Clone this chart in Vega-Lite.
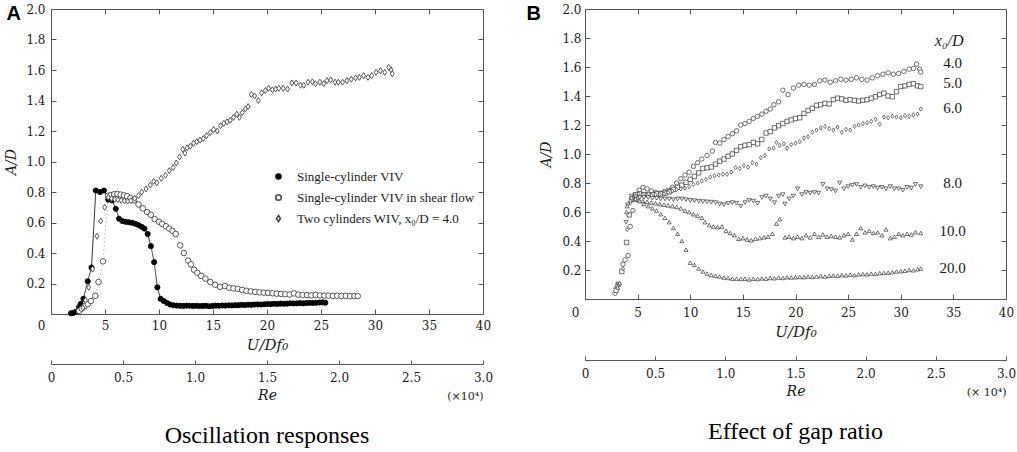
{
  "$schema": "https://vega.github.io/schema/vega-lite/v6.json",
  "padding": {"left": 4, "top": 2, "right": 0, "bottom": 0},
  "background": "white",
  "spacing": 31,
  "resolve": {
    "scale": {"shape": "independent", "size": "independent", "fill": "independent", "stroke": "independent", "color": "independent", "strokeDash": "independent"},
    "legend": {"shape": "independent", "fill": "independent", "stroke": "independent", "size": "independent"}
  },
  "config": {
    "view": {"stroke": "#555", "strokeWidth": 1},
    "font": "Liberation Serif",
    "axis": {
      "domain": false,
      "grid": false,
      "tickColor": "#555",
      "tickWidth": 1,
      "labelFont": "DejaVu Serif",
      "labelFontSize": 12,
      "labelColor": "#1a1a1a",
      "titleFont": "DejaVu Serif",
      "titleFontWeight": "normal",
      "titleColor": "#1a1a1a",
      "labelFlush": false,
      "labelOverlap": false
    },
    "legend": {"labelFont": "Liberation Serif", "labelFontSize": 13}
  },
  "datasets": {
    "a": [
      {"s":"V","u":1.85,"a":0.005},{"s":"V","u":2.05,"a":0.007},{"s":"V","u":2.3,"a":0.015},{"s":"V","u":2.6,"a":0.045},{"s":"V","u":2.75,"a":0.066},{"s":"V","u":3.0,"a":0.1},{"s":"V","u":3.4,"a":0.215},{"s":"V","u":3.75,"a":0.305},{"s":"V","u":4.15,"a":0.81},{"s":"V","u":4.55,"a":0.8},{"s":"V","u":4.9,"a":0.81},{"s":"V","u":5.3,"a":0.75},{"s":"V","u":5.65,"a":0.745},{"s":"V","u":6.0,"a":0.69},{"s":"V","u":6.3,"a":0.625},{"s":"V","u":6.6,"a":0.61},{"s":"V","u":6.9,"a":0.605},{"s":"V","u":7.2,"a":0.602},{"s":"V","u":7.5,"a":0.598},{"s":"V","u":7.8,"a":0.592},{"s":"V","u":8.1,"a":0.583},{"s":"V","u":8.4,"a":0.572},{"s":"V","u":8.65,"a":0.56},{"s":"V","u":8.95,"a":0.525},{"s":"V","u":9.25,"a":0.445},{"s":"V","u":9.55,"a":0.34},{"s":"V","u":9.85,"a":0.175},{"s":"V","u":10.15,"a":0.1},{"s":"V","u":10.45,"a":0.085},{"s":"V","u":10.75,"a":0.072},{"s":"V","u":11.05,"a":0.062},{"s":"V","u":11.35,"a":0.057},{"s":"V","u":11.65,"a":0.055},{"s":"V","u":11.95,"a":0.054},{"s":"V","u":12.25,"a":0.053},{"s":"V","u":12.55,"a":0.055},{"s":"V","u":12.85,"a":0.054},{"s":"V","u":13.15,"a":0.053},{"s":"V","u":13.45,"a":0.054},{"s":"V","u":13.75,"a":0.052},{"s":"V","u":14.05,"a":0.053},{"s":"V","u":14.35,"a":0.054},{"s":"V","u":14.65,"a":0.051},{"s":"V","u":14.95,"a":0.053},{"s":"V","u":15.25,"a":0.055},{"s":"V","u":15.55,"a":0.054},{"s":"V","u":15.85,"a":0.056},{"s":"V","u":16.15,"a":0.055},{"s":"V","u":16.45,"a":0.057},{"s":"V","u":16.75,"a":0.056},{"s":"V","u":17.05,"a":0.058},{"s":"V","u":17.35,"a":0.058},{"s":"V","u":17.65,"a":0.06},{"s":"V","u":17.95,"a":0.059},{"s":"V","u":18.25,"a":0.061},{"s":"V","u":18.55,"a":0.06},{"s":"V","u":18.85,"a":0.062},{"s":"V","u":19.15,"a":0.063},{"s":"V","u":19.45,"a":0.062},{"s":"V","u":19.75,"a":0.064},{"s":"V","u":20.05,"a":0.066},{"s":"V","u":20.35,"a":0.065},{"s":"V","u":20.65,"a":0.067},{"s":"V","u":20.95,"a":0.066},{"s":"V","u":21.25,"a":0.068},{"s":"V","u":21.55,"a":0.067},{"s":"V","u":21.85,"a":0.068},{"s":"V","u":22.15,"a":0.07},{"s":"V","u":22.45,"a":0.069},{"s":"V","u":22.75,"a":0.07},{"s":"V","u":23.05,"a":0.071},{"s":"V","u":23.35,"a":0.07},{"s":"V","u":23.65,"a":0.072},{"s":"V","u":23.95,"a":0.073},{"s":"V","u":24.25,"a":0.072},{"s":"V","u":24.55,"a":0.074},{"s":"V","u":24.85,"a":0.075},{"s":"V","u":25.15,"a":0.076},{"s":"V","u":25.4,"a":0.074},
      {"s":"S","u":2.6,"a":0.02},{"s":"S","u":2.85,"a":0.035},{"s":"S","u":3.1,"a":0.05},{"s":"S","u":3.4,"a":0.065},{"s":"S","u":3.7,"a":0.085},{"s":"S","u":4.1,"a":0.12},{"s":"S","u":4.4,"a":0.21},{"s":"S","u":4.82,"a":0.345},{"s":"S","u":5.28,"a":0.775},{"s":"S","u":5.55,"a":0.78},{"s":"S","u":5.85,"a":0.785},{"s":"S","u":6.15,"a":0.787},{"s":"S","u":6.45,"a":0.783},{"s":"S","u":6.75,"a":0.778},{"s":"S","u":7.05,"a":0.772},{"s":"S","u":7.35,"a":0.76},{"s":"S","u":7.7,"a":0.745},{"s":"S","u":8.1,"a":0.718},{"s":"S","u":8.5,"a":0.692},{"s":"S","u":8.9,"a":0.668},{"s":"S","u":9.25,"a":0.65},{"s":"S","u":9.6,"a":0.622},{"s":"S","u":10.0,"a":0.605},{"s":"S","u":10.3,"a":0.59},{"s":"S","u":10.65,"a":0.575},{"s":"S","u":10.95,"a":0.56},{"s":"S","u":11.25,"a":0.545},{"s":"S","u":11.55,"a":0.525},{"s":"S","u":11.97,"a":0.45},{"s":"S","u":12.3,"a":0.4},{"s":"S","u":12.7,"a":0.35},{"s":"S","u":12.95,"a":0.325},{"s":"S","u":13.25,"a":0.29},{"s":"S","u":13.55,"a":0.27},{"s":"S","u":13.9,"a":0.25},{"s":"S","u":14.3,"a":0.232},{"s":"S","u":14.75,"a":0.21},{"s":"S","u":15.2,"a":0.192},{"s":"S","u":15.65,"a":0.178},{"s":"S","u":16.1,"a":0.183},{"s":"S","u":16.5,"a":0.172},{"s":"S","u":16.9,"a":0.168},{"s":"S","u":17.3,"a":0.165},{"s":"S","u":17.7,"a":0.158},{"s":"S","u":18.1,"a":0.152},{"s":"S","u":18.5,"a":0.148},{"s":"S","u":18.9,"a":0.145},{"s":"S","u":19.3,"a":0.142},{"s":"S","u":19.7,"a":0.14},{"s":"S","u":20.1,"a":0.138},{"s":"S","u":20.5,"a":0.136},{"s":"S","u":20.9,"a":0.133},{"s":"S","u":21.3,"a":0.132},{"s":"S","u":21.7,"a":0.13},{"s":"S","u":22.1,"a":0.128},{"s":"S","u":22.5,"a":0.135},{"s":"S","u":22.9,"a":0.127},{"s":"S","u":23.3,"a":0.125},{"s":"S","u":23.7,"a":0.124},{"s":"S","u":24.1,"a":0.122},{"s":"S","u":24.5,"a":0.125},{"s":"S","u":24.9,"a":0.122},{"s":"S","u":25.3,"a":0.12},{"s":"S","u":25.7,"a":0.121},{"s":"S","u":26.1,"a":0.119},{"s":"S","u":26.5,"a":0.12},{"s":"S","u":26.9,"a":0.118},{"s":"S","u":27.3,"a":0.119},{"s":"S","u":27.7,"a":0.117},{"s":"S","u":28.1,"a":0.118},{"s":"S","u":28.4,"a":0.117},
      {"s":"T","u":2.95,"a":0.04},{"s":"T","u":3.2,"a":0.09},{"s":"T","u":3.5,"a":0.175},{"s":"T","u":3.85,"a":0.295},{"s":"T","u":4.25,"a":0.51},{"s":"T","u":4.6,"a":0.61},{"s":"T","u":4.97,"a":0.7},{"s":"T","u":5.3,"a":0.765},{"s":"T","u":5.6,"a":0.757},{"s":"T","u":5.9,"a":0.752},{"s":"T","u":6.2,"a":0.75},{"s":"T","u":6.5,"a":0.745},{"s":"T","u":6.8,"a":0.742},{"s":"T","u":7.1,"a":0.74},{"s":"T","u":7.4,"a":0.743},{"s":"T","u":7.75,"a":0.758},{"s":"T","u":8.1,"a":0.776},{"s":"T","u":8.4,"a":0.8},{"s":"T","u":8.8,"a":0.82},{"s":"T","u":9.2,"a":0.846},{"s":"T","u":9.5,"a":0.87},{"s":"T","u":9.8,"a":0.86},{"s":"T","u":10.2,"a":0.89},{"s":"T","u":10.6,"a":0.91},{"s":"T","u":10.95,"a":0.94},{"s":"T","u":11.3,"a":0.96},{"s":"T","u":11.6,"a":0.99},{"s":"T","u":11.9,"a":1.03},{"s":"T","u":12.2,"a":1.08},{"s":"T","u":12.4,"a":1.055},{"s":"T","u":12.6,"a":1.09},{"s":"T","u":12.9,"a":1.1},{"s":"T","u":13.2,"a":1.12},{"s":"T","u":13.5,"a":1.13},{"s":"T","u":13.8,"a":1.14},{"s":"T","u":14.1,"a":1.15},{"s":"T","u":14.4,"a":1.17},{"s":"T","u":14.75,"a":1.19},{"s":"T","u":15.05,"a":1.21},{"s":"T","u":15.4,"a":1.2},{"s":"T","u":15.7,"a":1.235},{"s":"T","u":16.0,"a":1.25},{"s":"T","u":16.3,"a":1.26},{"s":"T","u":16.6,"a":1.27},{"s":"T","u":16.9,"a":1.29},{"s":"T","u":17.2,"a":1.31},{"s":"T","u":17.45,"a":1.29},{"s":"T","u":17.7,"a":1.32},{"s":"T","u":18.0,"a":1.345},{"s":"T","u":18.25,"a":1.36},{"s":"T","u":18.55,"a":1.44},{"s":"T","u":18.85,"a":1.43},{"s":"T","u":19.2,"a":1.4},{"s":"T","u":19.5,"a":1.45},{"s":"T","u":19.85,"a":1.465},{"s":"T","u":20.15,"a":1.48},{"s":"T","u":20.5,"a":1.47},{"s":"T","u":20.8,"a":1.475},{"s":"T","u":21.1,"a":1.48},{"s":"T","u":21.5,"a":1.48},{"s":"T","u":21.9,"a":1.475},{"s":"T","u":22.3,"a":1.515},{"s":"T","u":22.7,"a":1.515},{"s":"T","u":23.1,"a":1.5},{"s":"T","u":23.4,"a":1.5},{"s":"T","u":23.8,"a":1.52},{"s":"T","u":24.2,"a":1.523},{"s":"T","u":24.5,"a":1.51},{"s":"T","u":24.9,"a":1.52},{"s":"T","u":25.25,"a":1.51},{"s":"T","u":25.55,"a":1.53},{"s":"T","u":25.9,"a":1.535},{"s":"T","u":26.3,"a":1.52},{"s":"T","u":26.6,"a":1.52},{"s":"T","u":27.0,"a":1.52},{"s":"T","u":27.4,"a":1.53},{"s":"T","u":27.8,"a":1.54},{"s":"T","u":28.2,"a":1.548},{"s":"T","u":28.55,"a":1.552},{"s":"T","u":28.95,"a":1.563},{"s":"T","u":29.35,"a":1.552},{"s":"T","u":29.7,"a":1.563},{"s":"T","u":30.1,"a":1.585},{"s":"T","u":30.5,"a":1.595},{"s":"T","u":30.9,"a":1.585},{"s":"T","u":31.27,"a":1.617},{"s":"T","u":31.5,"a":1.6},{"s":"T","u":31.6,"a":1.575}
    ],
    "b": [
      {"g":"4.0","u":2.85,"a":0.04},{"g":"4.0","u":3.0,"a":0.07},{"g":"4.0","u":3.6,"a":0.24},{"g":"4.0","u":3.8,"a":0.27},{"g":"4.0","u":4.1,"a":0.3},{"g":"4.0","u":4.3,"a":0.5},{"g":"4.0","u":4.55,"a":0.61},{"g":"4.0","u":4.85,"a":0.7},{"g":"4.0","u":5.15,"a":0.75},{"g":"4.0","u":5.5,"a":0.77},{"g":"4.0","u":5.9,"a":0.76},{"g":"4.0","u":6.3,"a":0.745},{"g":"4.0","u":6.7,"a":0.735},{"g":"4.0","u":7.1,"a":0.73},{"g":"4.0","u":7.5,"a":0.74},{"g":"4.0","u":7.9,"a":0.75},{"g":"4.0","u":8.3,"a":0.77},{"g":"4.0","u":8.7,"a":0.8},{"g":"4.0","u":9.1,"a":0.83},{"g":"4.0","u":9.5,"a":0.855},{"g":"4.0","u":9.9,"a":0.875},{"g":"4.0","u":10.3,"a":0.915},{"g":"4.0","u":10.7,"a":0.94},{"g":"4.0","u":11.1,"a":0.965},{"g":"4.0","u":11.6,"a":0.99},{"g":"4.0","u":12.1,"a":1.02},{"g":"4.0","u":12.4,"a":1.08},{"g":"4.0","u":12.8,"a":1.075},{"g":"4.0","u":13.2,"a":1.1},{"g":"4.0","u":13.6,"a":1.12},{"g":"4.0","u":14.0,"a":1.14},{"g":"4.0","u":14.4,"a":1.16},{"g":"4.0","u":14.8,"a":1.2},{"g":"4.0","u":15.2,"a":1.21},{"g":"4.0","u":15.6,"a":1.225},{"g":"4.0","u":16.0,"a":1.245},{"g":"4.0","u":16.4,"a":1.26},{"g":"4.0","u":16.8,"a":1.275},{"g":"4.0","u":17.2,"a":1.295},{"g":"4.0","u":17.6,"a":1.31},{"g":"4.0","u":17.95,"a":1.34},{"g":"4.0","u":18.4,"a":1.36},{"g":"4.0","u":18.8,"a":1.44},{"g":"4.0","u":19.3,"a":1.41},{"g":"4.0","u":19.8,"a":1.455},{"g":"4.0","u":20.3,"a":1.475},{"g":"4.0","u":20.8,"a":1.48},{"g":"4.0","u":21.3,"a":1.475},{"g":"4.0","u":21.8,"a":1.48},{"g":"4.0","u":22.3,"a":1.505},{"g":"4.0","u":22.8,"a":1.51},{"g":"4.0","u":23.3,"a":1.495},{"g":"4.0","u":23.8,"a":1.505},{"g":"4.0","u":24.3,"a":1.515},{"g":"4.0","u":24.8,"a":1.51},{"g":"4.0","u":25.3,"a":1.515},{"g":"4.0","u":25.8,"a":1.525},{"g":"4.0","u":26.3,"a":1.515},{"g":"4.0","u":26.8,"a":1.51},{"g":"4.0","u":27.3,"a":1.525},{"g":"4.0","u":27.8,"a":1.54},{"g":"4.0","u":28.3,"a":1.55},{"g":"4.0","u":28.8,"a":1.56},{"g":"4.0","u":29.3,"a":1.55},{"g":"4.0","u":29.8,"a":1.555},{"g":"4.0","u":30.3,"a":1.57},{"g":"4.0","u":30.8,"a":1.585},{"g":"4.0","u":31.2,"a":1.59},{"g":"4.0","u":31.5,"a":1.62},{"g":"4.0","u":31.8,"a":1.585},{"g":"4.0","u":31.9,"a":1.565},
      {"g":"5.0","u":2.95,"a":0.06},{"g":"5.0","u":3.15,"a":0.1},{"g":"5.0","u":3.5,"a":0.19},{"g":"5.0","u":3.95,"a":0.39},{"g":"5.0","u":4.2,"a":0.58},{"g":"5.0","u":4.45,"a":0.69},{"g":"5.0","u":4.8,"a":0.72},{"g":"5.0","u":5.2,"a":0.725},{"g":"5.0","u":5.6,"a":0.72},{"g":"5.0","u":6.0,"a":0.72},{"g":"5.0","u":6.4,"a":0.72},{"g":"5.0","u":6.8,"a":0.725},{"g":"5.0","u":7.2,"a":0.725},{"g":"5.0","u":7.6,"a":0.73},{"g":"5.0","u":8.0,"a":0.74},{"g":"5.0","u":8.4,"a":0.755},{"g":"5.0","u":8.8,"a":0.77},{"g":"5.0","u":9.2,"a":0.785},{"g":"5.0","u":9.6,"a":0.805},{"g":"5.0","u":10.0,"a":0.825},{"g":"5.0","u":10.4,"a":0.845},{"g":"5.0","u":10.8,"a":0.87},{"g":"5.0","u":11.2,"a":0.9},{"g":"5.0","u":11.6,"a":0.905},{"g":"5.0","u":12.0,"a":0.91},{"g":"5.0","u":12.4,"a":0.93},{"g":"5.0","u":12.8,"a":0.95},{"g":"5.0","u":13.2,"a":0.965},{"g":"5.0","u":13.6,"a":0.985},{"g":"5.0","u":14.0,"a":1.0},{"g":"5.0","u":14.4,"a":1.025},{"g":"5.0","u":14.8,"a":1.05},{"g":"5.0","u":15.2,"a":1.06},{"g":"5.0","u":15.6,"a":1.065},{"g":"5.0","u":16.0,"a":1.08},{"g":"5.0","u":16.4,"a":1.07},{"g":"5.0","u":16.8,"a":1.1},{"g":"5.0","u":17.2,"a":1.145},{"g":"5.0","u":17.6,"a":1.155},{"g":"5.0","u":18.0,"a":1.18},{"g":"5.0","u":18.4,"a":1.195},{"g":"5.0","u":18.8,"a":1.21},{"g":"5.0","u":19.2,"a":1.225},{"g":"5.0","u":19.6,"a":1.235},{"g":"5.0","u":20.0,"a":1.245},{"g":"5.0","u":20.4,"a":1.25},{"g":"5.0","u":20.8,"a":1.28},{"g":"5.0","u":21.2,"a":1.3},{"g":"5.0","u":21.6,"a":1.315},{"g":"5.0","u":22.0,"a":1.335},{"g":"5.0","u":22.4,"a":1.34},{"g":"5.0","u":22.8,"a":1.35},{"g":"5.0","u":23.2,"a":1.345},{"g":"5.0","u":23.6,"a":1.375},{"g":"5.0","u":24.0,"a":1.385},{"g":"5.0","u":24.4,"a":1.38},{"g":"5.0","u":24.8,"a":1.37},{"g":"5.0","u":25.2,"a":1.375},{"g":"5.0","u":25.6,"a":1.37},{"g":"5.0","u":26.0,"a":1.365},{"g":"5.0","u":26.4,"a":1.37},{"g":"5.0","u":26.8,"a":1.375},{"g":"5.0","u":27.2,"a":1.385},{"g":"5.0","u":27.6,"a":1.395},{"g":"5.0","u":28.0,"a":1.41},{"g":"5.0","u":28.4,"a":1.42},{"g":"5.0","u":28.8,"a":1.4},{"g":"5.0","u":29.2,"a":1.395},{"g":"5.0","u":29.6,"a":1.43},{"g":"5.0","u":30.0,"a":1.465},{"g":"5.0","u":30.4,"a":1.47},{"g":"5.0","u":30.8,"a":1.48},{"g":"5.0","u":31.2,"a":1.485},{"g":"5.0","u":31.6,"a":1.47},{"g":"5.0","u":31.9,"a":1.465},
      {"g":"6.0","u":3.05,"a":0.09},{"g":"6.0","u":3.6,"a":0.21},{"g":"6.0","u":4.0,"a":0.48},{"g":"6.0","u":4.3,"a":0.66},{"g":"6.0","u":4.7,"a":0.72},{"g":"6.0","u":5.1,"a":0.725},{"g":"6.0","u":5.5,"a":0.72},{"g":"6.0","u":5.9,"a":0.715},{"g":"6.0","u":6.3,"a":0.715},{"g":"6.0","u":6.7,"a":0.72},{"g":"6.0","u":7.1,"a":0.72},{"g":"6.0","u":7.5,"a":0.725},{"g":"6.0","u":7.9,"a":0.735},{"g":"6.0","u":8.3,"a":0.745},{"g":"6.0","u":8.7,"a":0.755},{"g":"6.0","u":9.1,"a":0.76},{"g":"6.0","u":9.5,"a":0.765},{"g":"6.0","u":9.9,"a":0.775},{"g":"6.0","u":10.3,"a":0.79},{"g":"6.0","u":10.7,"a":0.8},{"g":"6.0","u":11.1,"a":0.815},{"g":"6.0","u":11.5,"a":0.825},{"g":"6.0","u":11.9,"a":0.84},{"g":"6.0","u":12.3,"a":0.85},{"g":"6.0","u":12.7,"a":0.855},{"g":"6.0","u":13.1,"a":0.86},{"g":"6.0","u":13.5,"a":0.86},{"g":"6.0","u":13.9,"a":0.875},{"g":"6.0","u":14.3,"a":0.905},{"g":"6.0","u":14.7,"a":0.9},{"g":"6.0","u":15.1,"a":0.92},{"g":"6.0","u":15.5,"a":0.91},{"g":"6.0","u":15.9,"a":0.94},{"g":"6.0","u":16.3,"a":0.93},{"g":"6.0","u":16.7,"a":0.975},{"g":"6.0","u":17.1,"a":0.99},{"g":"6.0","u":17.5,"a":1.035},{"g":"6.0","u":17.9,"a":1.04},{"g":"6.0","u":18.2,"a":1.08},{"g":"6.0","u":18.5,"a":1.06},{"g":"6.0","u":18.9,"a":1.07},{"g":"6.0","u":19.2,"a":1.04},{"g":"6.0","u":19.6,"a":1.065},{"g":"6.0","u":20.0,"a":1.075},{"g":"6.0","u":20.4,"a":1.085},{"g":"6.0","u":20.8,"a":1.11},{"g":"6.0","u":21.2,"a":1.12},{"g":"6.0","u":21.6,"a":1.15},{"g":"6.0","u":22.0,"a":1.165},{"g":"6.0","u":22.4,"a":1.18},{"g":"6.0","u":22.8,"a":1.19},{"g":"6.0","u":23.2,"a":1.175},{"g":"6.0","u":23.6,"a":1.165},{"g":"6.0","u":24.0,"a":1.185},{"g":"6.0","u":24.4,"a":1.15},{"g":"6.0","u":24.8,"a":1.17},{"g":"6.0","u":25.2,"a":1.165},{"g":"6.0","u":25.6,"a":1.19},{"g":"6.0","u":26.0,"a":1.2},{"g":"6.0","u":26.4,"a":1.21},{"g":"6.0","u":26.8,"a":1.215},{"g":"6.0","u":27.2,"a":1.225},{"g":"6.0","u":27.6,"a":1.24},{"g":"6.0","u":28.0,"a":1.205},{"g":"6.0","u":28.4,"a":1.255},{"g":"6.0","u":28.8,"a":1.25},{"g":"6.0","u":29.2,"a":1.26},{"g":"6.0","u":29.6,"a":1.255},{"g":"6.0","u":30.0,"a":1.25},{"g":"6.0","u":30.4,"a":1.265},{"g":"6.0","u":30.8,"a":1.26},{"g":"6.0","u":31.2,"a":1.27},{"g":"6.0","u":31.6,"a":1.275},{"g":"6.0","u":31.9,"a":1.31},
      {"g":"8.0","u":3.2,"a":0.1},{"g":"8.0","u":3.9,"a":0.53},{"g":"8.0","u":4.05,"a":0.65},{"g":"8.0","u":4.4,"a":0.71},{"g":"8.0","u":4.8,"a":0.705},{"g":"8.0","u":5.2,"a":0.7},{"g":"8.0","u":5.6,"a":0.7},{"g":"8.0","u":6.0,"a":0.7},{"g":"8.0","u":6.4,"a":0.695},{"g":"8.0","u":6.8,"a":0.695},{"g":"8.0","u":7.2,"a":0.69},{"g":"8.0","u":7.6,"a":0.69},{"g":"8.0","u":8.0,"a":0.69},{"g":"8.0","u":8.4,"a":0.685},{"g":"8.0","u":8.8,"a":0.69},{"g":"8.0","u":9.2,"a":0.69},{"g":"8.0","u":9.6,"a":0.685},{"g":"8.0","u":10.0,"a":0.68},{"g":"8.0","u":10.4,"a":0.678},{"g":"8.0","u":10.8,"a":0.675},{"g":"8.0","u":11.2,"a":0.672},{"g":"8.0","u":11.6,"a":0.67},{"g":"8.0","u":12.0,"a":0.668},{"g":"8.0","u":12.4,"a":0.665},{"g":"8.0","u":12.8,"a":0.655},{"g":"8.0","u":13.2,"a":0.65},{"g":"8.0","u":13.6,"a":0.66},{"g":"8.0","u":14.0,"a":0.665},{"g":"8.0","u":14.4,"a":0.66},{"g":"8.0","u":14.8,"a":0.64},{"g":"8.0","u":15.2,"a":0.665},{"g":"8.0","u":15.6,"a":0.68},{"g":"8.0","u":16.0,"a":0.675},{"g":"8.0","u":16.4,"a":0.66},{"g":"8.0","u":16.8,"a":0.7},{"g":"8.0","u":17.2,"a":0.71},{"g":"8.0","u":17.6,"a":0.69},{"g":"8.0","u":18.0,"a":0.665},{"g":"8.0","u":18.4,"a":0.71},{"g":"8.0","u":18.8,"a":0.72},{"g":"8.0","u":19.0,"a":0.655},{"g":"8.0","u":19.4,"a":0.69},{"g":"8.0","u":19.8,"a":0.71},{"g":"8.0","u":20.2,"a":0.76},{"g":"8.0","u":20.6,"a":0.72},{"g":"8.0","u":21.0,"a":0.735},{"g":"8.0","u":21.4,"a":0.73},{"g":"8.0","u":21.8,"a":0.735},{"g":"8.0","u":22.2,"a":0.73},{"g":"8.0","u":22.6,"a":0.79},{"g":"8.0","u":23.0,"a":0.76},{"g":"8.0","u":23.4,"a":0.755},{"g":"8.0","u":23.8,"a":0.745},{"g":"8.0","u":24.2,"a":0.8},{"g":"8.0","u":24.6,"a":0.76},{"g":"8.0","u":25.0,"a":0.775},{"g":"8.0","u":25.4,"a":0.785},{"g":"8.0","u":25.8,"a":0.79},{"g":"8.0","u":26.2,"a":0.77},{"g":"8.0","u":26.6,"a":0.78},{"g":"8.0","u":27.0,"a":0.77},{"g":"8.0","u":27.4,"a":0.775},{"g":"8.0","u":27.8,"a":0.765},{"g":"8.0","u":28.2,"a":0.77},{"g":"8.0","u":28.6,"a":0.76},{"g":"8.0","u":29.0,"a":0.775},{"g":"8.0","u":29.4,"a":0.76},{"g":"8.0","u":29.8,"a":0.76},{"g":"8.0","u":30.2,"a":0.75},{"g":"8.0","u":30.6,"a":0.77},{"g":"8.0","u":31.0,"a":0.765},{"g":"8.0","u":31.4,"a":0.79},{"g":"8.0","u":31.9,"a":0.775},
      {"g":"10.0","u":3.1,"a":0.08},{"g":"10.0","u":3.95,"a":0.6},{"g":"10.0","u":4.3,"a":0.68},{"g":"10.0","u":4.7,"a":0.685},{"g":"10.0","u":5.1,"a":0.68},{"g":"10.0","u":5.5,"a":0.675},{"g":"10.0","u":5.9,"a":0.67},{"g":"10.0","u":6.3,"a":0.665},{"g":"10.0","u":6.7,"a":0.66},{"g":"10.0","u":7.1,"a":0.655},{"g":"10.0","u":7.5,"a":0.65},{"g":"10.0","u":7.9,"a":0.645},{"g":"10.0","u":8.3,"a":0.64},{"g":"10.0","u":8.7,"a":0.635},{"g":"10.0","u":9.1,"a":0.625},{"g":"10.0","u":9.5,"a":0.61},{"g":"10.0","u":9.9,"a":0.6},{"g":"10.0","u":10.3,"a":0.585},{"g":"10.0","u":10.7,"a":0.575},{"g":"10.0","u":11.1,"a":0.56},{"g":"10.0","u":11.4,"a":0.53},{"g":"10.0","u":11.8,"a":0.51},{"g":"10.0","u":12.2,"a":0.5},{"g":"10.0","u":12.6,"a":0.495},{"g":"10.0","u":13.0,"a":0.5},{"g":"10.0","u":13.4,"a":0.47},{"g":"10.0","u":13.8,"a":0.455},{"g":"10.0","u":14.2,"a":0.44},{"g":"10.0","u":14.6,"a":0.415},{"g":"10.0","u":15.0,"a":0.42},{"g":"10.0","u":15.4,"a":0.41},{"g":"10.0","u":15.8,"a":0.405},{"g":"10.0","u":16.2,"a":0.415},{"g":"10.0","u":16.6,"a":0.42},{"g":"10.0","u":17.0,"a":0.425},{"g":"10.0","u":17.4,"a":0.43},{"g":"10.0","u":17.8,"a":0.45},{"g":"10.0","u":18.2,"a":0.52},{"g":"10.0","u":18.5,"a":0.55},{"g":"10.0","u":19.0,"a":0.425},{"g":"10.0","u":19.4,"a":0.43},{"g":"10.0","u":19.8,"a":0.42},{"g":"10.0","u":20.2,"a":0.43},{"g":"10.0","u":20.6,"a":0.42},{"g":"10.0","u":21.0,"a":0.44},{"g":"10.0","u":21.4,"a":0.425},{"g":"10.0","u":21.8,"a":0.45},{"g":"10.0","u":22.2,"a":0.43},{"g":"10.0","u":22.6,"a":0.445},{"g":"10.0","u":23.0,"a":0.43},{"g":"10.0","u":23.4,"a":0.435},{"g":"10.0","u":23.8,"a":0.43},{"g":"10.0","u":24.2,"a":0.425},{"g":"10.0","u":24.6,"a":0.44},{"g":"10.0","u":25.0,"a":0.45},{"g":"10.0","u":25.4,"a":0.41},{"g":"10.0","u":25.8,"a":0.45},{"g":"10.0","u":26.2,"a":0.49},{"g":"10.0","u":26.6,"a":0.46},{"g":"10.0","u":27.0,"a":0.47},{"g":"10.0","u":27.4,"a":0.455},{"g":"10.0","u":27.8,"a":0.46},{"g":"10.0","u":28.2,"a":0.44},{"g":"10.0","u":28.6,"a":0.48},{"g":"10.0","u":29.0,"a":0.42},{"g":"10.0","u":29.4,"a":0.43},{"g":"10.0","u":29.8,"a":0.45},{"g":"10.0","u":30.2,"a":0.44},{"g":"10.0","u":30.6,"a":0.45},{"g":"10.0","u":31.0,"a":0.445},{"g":"10.0","u":31.4,"a":0.46},{"g":"10.0","u":31.9,"a":0.455},
      {"g":"20.0","u":3.3,"a":0.11},{"g":"20.0","u":4.0,"a":0.64},{"g":"20.0","u":4.4,"a":0.7},{"g":"20.0","u":4.8,"a":0.69},{"g":"20.0","u":5.2,"a":0.675},{"g":"20.0","u":5.6,"a":0.655},{"g":"20.0","u":6.0,"a":0.64},{"g":"20.0","u":6.4,"a":0.625},{"g":"20.0","u":6.8,"a":0.61},{"g":"20.0","u":7.2,"a":0.585},{"g":"20.0","u":7.6,"a":0.56},{"g":"20.0","u":8.0,"a":0.53},{"g":"20.0","u":8.4,"a":0.49},{"g":"20.0","u":8.8,"a":0.45},{"g":"20.0","u":9.2,"a":0.4},{"g":"20.0","u":9.6,"a":0.34},{"g":"20.0","u":10.0,"a":0.25},{"g":"20.0","u":10.4,"a":0.235},{"g":"20.0","u":10.8,"a":0.21},{"g":"20.0","u":11.2,"a":0.19},{"g":"20.0","u":11.6,"a":0.175},{"g":"20.0","u":12.0,"a":0.165},{"g":"20.0","u":12.4,"a":0.16},{"g":"20.0","u":12.8,"a":0.155},{"g":"20.0","u":13.2,"a":0.148},{"g":"20.0","u":13.6,"a":0.145},{"g":"20.0","u":14.0,"a":0.14},{"g":"20.0","u":14.4,"a":0.14},{"g":"20.0","u":14.8,"a":0.138},{"g":"20.0","u":15.2,"a":0.14},{"g":"20.0","u":15.6,"a":0.135},{"g":"20.0","u":16.0,"a":0.14},{"g":"20.0","u":16.4,"a":0.138},{"g":"20.0","u":16.8,"a":0.142},{"g":"20.0","u":17.2,"a":0.14},{"g":"20.0","u":17.6,"a":0.145},{"g":"20.0","u":18.0,"a":0.143},{"g":"20.0","u":18.4,"a":0.148},{"g":"20.0","u":18.8,"a":0.145},{"g":"20.0","u":19.2,"a":0.15},{"g":"20.0","u":19.6,"a":0.148},{"g":"20.0","u":20.0,"a":0.15},{"g":"20.0","u":20.4,"a":0.152},{"g":"20.0","u":20.8,"a":0.15},{"g":"20.0","u":21.2,"a":0.155},{"g":"20.0","u":21.6,"a":0.152},{"g":"20.0","u":22.0,"a":0.155},{"g":"20.0","u":22.4,"a":0.158},{"g":"20.0","u":22.8,"a":0.155},{"g":"20.0","u":23.2,"a":0.16},{"g":"20.0","u":23.6,"a":0.162},{"g":"20.0","u":24.0,"a":0.16},{"g":"20.0","u":24.4,"a":0.165},{"g":"20.0","u":24.8,"a":0.163},{"g":"20.0","u":25.2,"a":0.168},{"g":"20.0","u":25.6,"a":0.165},{"g":"20.0","u":26.0,"a":0.17},{"g":"20.0","u":26.4,"a":0.172},{"g":"20.0","u":26.8,"a":0.17},{"g":"20.0","u":27.2,"a":0.175},{"g":"20.0","u":27.6,"a":0.173},{"g":"20.0","u":28.0,"a":0.178},{"g":"20.0","u":28.4,"a":0.18},{"g":"20.0","u":28.8,"a":0.182},{"g":"20.0","u":29.2,"a":0.185},{"g":"20.0","u":29.6,"a":0.19},{"g":"20.0","u":30.0,"a":0.192},{"g":"20.0","u":30.4,"a":0.195},{"g":"20.0","u":30.8,"a":0.2},{"g":"20.0","u":31.2,"a":0.198},{"g":"20.0","u":31.6,"a":0.205},{"g":"20.0","u":31.9,"a":0.21}
    ]
  },
  "hconcat": [
    {
      "width": 432,
      "height": 305,
      "title": {"text": "Oscillation responses", "orient": "bottom", "anchor": "middle", "frame": "group", "font": "Liberation Serif", "fontSize": 24, "fontWeight": "normal", "color": "#000", "offset": 22},
      "data": {"name": "a"},
      "resolve": {"scale": {"x": "independent"}, "axis": {"x": "independent", "y": "independent"}},
      "layer": [
        {
          "transform": [{"filter": "datum.s !== 'T'"}],
          "mark": {"type": "line", "strokeWidth": 0.8},
          "encoding": {
            "x": {"field": "u", "type": "quantitative", "scale": {"domain": [0, 40], "nice": false},
              "axis": {"orient": "bottom", "values": [0, 5, 10, 15, 20, 25, 30, 35, 40], "tickSize": -5, "labelPadding": 11,
                "labelFont": "DejaVu Serif", "labelFontSize": 12, "titleFont": "DejaVu Serif",
                "labelAlign": {"condition": {"test": "datum.value === 0", "value": "right"}, "value": "center"},
                "labelOffset": {"condition": {"test": "datum.value === 0", "value": -6}, "value": 0},
                "title": "U/Df₀", "titleFontSize": 15, "titleFontStyle": "italic", "titlePadding": 6}},
            "y": {"field": "a", "type": "quantitative", "scale": {"domain": [0, 2], "nice": false},
              "axis": {"orient": "left", "values": [0.2, 0.4, 0.6, 0.8, 1, 1.2, 1.4, 1.6, 1.8, 2], "format": ".1f", "tickSize": -5, "labelPadding": 11,
                "labelFont": "DejaVu Serif", "labelFontSize": 12, "titleFont": "DejaVu Serif",
                "title": "A/D", "titleFontSize": 14, "titleFontStyle": "italic", "titlePadding": 7}},
            "color": {"field": "s", "type": "nominal", "scale": {"domain": ["V", "S"], "range": ["#000000", "#aaaaaa"]}, "legend": null},
            "strokeDash": {"field": "s", "type": "nominal", "scale": {"domain": ["V", "S"], "range": [[1, 0], [1.5, 2.5]]}, "legend": null}
          }
        },
        {
          "mark": {"type": "point", "strokeWidth": 0.9, "opacity": 1},
          "encoding": {
            "x": {"field": "u", "type": "quantitative", "scale": {"domain": [0, 40], "nice": false},
              "axis": {"orient": "top", "values": [5, 10, 15, 20, 25, 30, 35], "labels": false, "tickSize": -5, "title": null}},
            "y": {"field": "a", "type": "quantitative",
              "axis": {"orient": "right", "values": [0.2, 0.4, 0.6, 0.8, 1, 1.2, 1.4, 1.6, 1.8], "labels": false, "tickSize": -5, "title": null}},
            "shape": {"field": "s", "type": "nominal",
              "scale": {"domain": ["V", "S", "T"], "range": ["circle", "circle", "M0,-1L0.65,0L0,1L-0.65,0Z"]},
              "legend": {
                "orient": "none", "legendX": 221, "legendY": 161, "title": null,
                "labelExpr": "datum.value === 'V' ? 'Single-cylinder VIV' : datum.value === 'S' ? 'Single-cylinder VIV in shear flow' : 'Two cylinders WIV, x₀/D = 4.0'",
                "labelFont": "Liberation Serif", "labelFontSize": 13, "labelColor": "#1a1a1a", "labelLimit": 400,
                "symbolSize": 36, "labelOffset": 12, "rowPadding": 7
              }},
            "fill": {"field": "s", "type": "nominal", "scale": {"domain": ["V", "S", "T"], "range": ["#000000", "#ffffff", "#ffffff"]}},
            "stroke": {"field": "s", "type": "nominal", "scale": {"domain": ["V", "S", "T"], "range": ["#000000", "#444444", "#444444"]}},
            "size": {"field": "s", "type": "nominal", "scale": {"domain": ["V", "S", "T"], "range": [26, 36, 36]}}
          }
        },
        {
          "data": {"values": [{}]},
          "mark": {"type": "text"},
          "encoding": {
            "x": {"datum": 0, "type": "quantitative", "scale": {"domain": [0, 3], "nice": false},
              "axis": {"orient": "bottom", "offset": 50, "values": [0, 0.5, 1, 1.5, 2, 2.5, 3], "labelExpr": "datum.value === 0 ? '0' : format(datum.value, '.1f')",
                "labelFont": "DejaVu Serif", "labelFontSize": 12, "titleFont": "DejaVu Serif",
                "domain": true, "domainColor": "#555", "tickSize": -4, "labelPadding": 12,
                "title": "Re", "titleFontSize": 14, "titleFontStyle": "italic", "titleY": 24}},
            "text": {"value": ""}
          }
        },
        {
          "data": {"values": [{}]},
          "mark": {"type": "text"},
          "encoding": {
            "x": {"datum": 0, "type": "quantitative", "scale": {"domain": [0, 3], "nice": false},
              "axis": {"orient": "bottom", "offset": 50, "domain": false, "ticks": false, "labels": false,
                "titleFont": "DejaVu Serif",
                "title": "(×10⁴)", "titleFontSize": 11, "titleAnchor": "end", "titleY": 26}},
            "y": {"datum": 1, "type": "quantitative",
              "axis": {"orient": "left", "domain": false, "ticks": false, "labels": false,
                "title": "A", "titleAngle": 0, "titleX": -45, "titleY": -6, "titleAlign": "left", "titleBaseline": "top",
                "titleFont": "Liberation Sans", "titleFontWeight": "bold", "titleFontSize": 20, "titleColor": "#000"}},
            "text": {"value": ""}
          }
        }
      ]
    },
    {
      "width": 421,
      "height": 290,
      "title": {"text": "Effect of gap ratio", "orient": "bottom", "anchor": "middle", "frame": "group", "font": "Liberation Serif", "fontSize": 24, "fontWeight": "normal", "color": "#000", "offset": 22},
      "data": {"name": "b"},
      "resolve": {"scale": {"x": "independent"}, "axis": {"x": "independent", "y": "independent"}},
      "layer": [
        {
          "mark": {"type": "point", "strokeWidth": 0.7, "opacity": 1, "fill": "#ffffff", "stroke": "#333333"},
          "encoding": {
            "x": {"field": "u", "type": "quantitative", "scale": {"domain": [0, 40], "nice": false},
              "axis": {"orient": "bottom", "values": [0, 5, 10, 15, 20, 25, 30, 35, 40], "tickSize": -5, "labelPadding": 13,
                "labelFont": "DejaVu Serif", "labelFontSize": 12, "titleFont": "DejaVu Serif",
                "labelAlign": {"condition": {"test": "datum.value === 0", "value": "right"}, "value": "center"},
                "labelOffset": {"condition": {"test": "datum.value === 0", "value": -6}, "value": 0},
                "title": "U/Df₀", "titleFontSize": 15, "titleFontStyle": "italic", "titlePadding": 6}},
            "y": {"field": "a", "type": "quantitative", "scale": {"domain": [0, 2], "nice": false},
              "axis": {"orient": "left", "values": [0.2, 0.4, 0.6, 0.8, 1, 1.2, 1.4, 1.6, 1.8, 2], "format": ".1f", "tickSize": -5, "labelPadding": 9,
                "labelFont": "DejaVu Serif", "labelFontSize": 12, "titleFont": "DejaVu Serif",
                "title": "A/D", "titleFontSize": 14, "titleFontStyle": "italic", "titlePadding": 8}},
            "shape": {"field": "g", "type": "nominal",
              "scale": {"domain": ["4.0", "5.0", "6.0", "8.0", "10.0", "20.0"], "range": ["circle", "square", "M0,-1L0.7,0L0,1L-0.7,0Z", "triangle-down", "triangle-up", "triangle-up"]},
              "legend": null},
            "size": {"field": "g", "type": "nominal", "scale": {"domain": ["4.0", "5.0", "6.0", "8.0", "10.0", "20.0"], "range": [20, 16, 22, 16, 17, 11]}, "legend": null}
          }
        },
        {
          "transform": [
            {"filter": "datum.u > 30.9"},
            {"aggregate": [{"op": "max", "field": "u", "as": "u"}, {"op": "max", "field": "a", "as": "a"}], "groupby": ["g"]}
          ],
          "mark": {"type": "text", "font": "Liberation Serif", "fontSize": 15, "dx": 32, "dy": -1, "align": "center", "baseline": "middle", "color": "#1a1a1a"},
          "encoding": {
            "x": {"field": "u", "type": "quantitative", "scale": {"domain": [0, 40], "nice": false},
              "axis": {"orient": "top", "values": [5, 10, 15, 20, 25, 30, 35], "labels": false, "tickSize": -5, "title": null}},
            "y": {"field": "a", "type": "quantitative",
              "axis": {"orient": "right", "values": [0.2, 0.4, 0.6, 0.8, 1, 1.2, 1.4, 1.6, 1.8], "labels": false, "tickSize": -5, "title": null}},
            "text": {"field": "g"}
          }
        },
        {
          "data": {"values": [{"t": "x₀/D"}]},
          "mark": {"type": "text", "font": "Liberation Serif", "fontSize": 16, "fontStyle": "italic", "align": "center", "baseline": "middle", "color": "#1a1a1a"},
          "encoding": {
            "x": {"datum": 34.6, "type": "quantitative", "scale": {"domain": [0, 40], "nice": false}, "axis": null},
            "y": {"datum": 1.78, "type": "quantitative", "axis": null},
            "text": {"field": "t"}
          }
        },
        {
          "data": {"values": [{}]},
          "mark": {"type": "text"},
          "encoding": {
            "x": {"datum": 0, "type": "quantitative", "scale": {"domain": [0, 3], "nice": false},
              "axis": {"orient": "bottom", "offset": 61, "values": [0, 0.5, 1, 1.5, 2, 2.5, 3], "labelExpr": "datum.value === 0 ? '0' : format(datum.value, '.1f')",
                "labelFont": "DejaVu Serif", "labelFontSize": 12, "titleFont": "DejaVu Serif",
                "domain": true, "domainColor": "#555", "tickSize": -4, "labelPadding": 12,
                "title": "Re", "titleFontSize": 14, "titleFontStyle": "italic", "titleY": 24}},
            "text": {"value": ""}
          }
        },
        {
          "data": {"values": [{}]},
          "mark": {"type": "text"},
          "encoding": {
            "x": {"datum": 0, "type": "quantitative", "scale": {"domain": [0, 3], "nice": false},
              "axis": {"orient": "bottom", "offset": 61, "domain": false, "ticks": false, "labels": false,
                "titleFont": "DejaVu Serif",
                "title": "(× 10⁴)", "titleFontSize": 11, "titleAnchor": "end", "titleY": 26}},
            "y": {"datum": 1, "type": "quantitative",
              "axis": {"orient": "left", "domain": false, "ticks": false, "labels": false,
                "title": "B", "titleAngle": 0, "titleX": -59, "titleY": -6, "titleAlign": "left", "titleBaseline": "top",
                "titleFont": "Liberation Sans", "titleFontWeight": "bold", "titleFontSize": 20, "titleColor": "#000"}},
            "text": {"value": ""}
          }
        }
      ]
    }
  ]
}
